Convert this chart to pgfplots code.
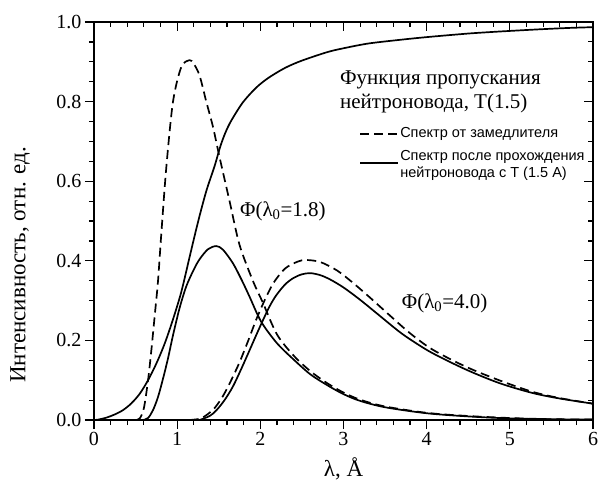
\documentclass[border=0pt]{standalone}
\usepackage{fontspec}
\setmainfont{Liberation Serif}
\newfontfamily\legfont{Liberation Sans}
\usepackage{pgfplots}
\pgfplotsset{compat=1.18}
\begin{document}
\begin{tikzpicture}
\pgfplotsset{
  frame/.style={
    scale only axis, width=499pt, height=398pt,
    xmin=0, xmax=6, ymin=0, ymax=1,
    xtick={0,1,2,3,4,5,6},
    ytick={0,0.2,0.4,0.6,0.8,1.0},
    minor x tick num=4, minor y tick num=3,
    major tick length=9pt, minor tick length=5pt,
    tick style={black, line width=1.2pt},
    axis line style={line width=1.5pt},
  },
  curve/.style={black, line width=1.7pt, smooth, tension=0.5},
  dcurve/.style={curve, dash pattern=on 9pt off 5pt},
}

% --- main axis: data, labels, outward ticks on left/bottom ---
\begin{axis}[
    frame,
    tick align=outside,
    xtick pos=bottom, ytick pos=left,
    /pgf/number format/assume math mode=true,
    ticklabel style={font=\fontsize{20}{24}\selectfont},
    yticklabel style={/pgf/number format/fixed,
                      /pgf/number format/fixed zerofill,
                      /pgf/number format/precision=1},
    xlabel={λ, Å},
    ylabel={Интенсивность, отн. ед.},
    label style={font=\fontsize{23}{27}\selectfont},
    xlabel style={at={(axis description cs:0.5,-0.123)}, anchor=center},
    ylabel style={at={(axis description cs:-0.148,0.39)}, anchor=center},
    clip=false
]

% transmission function T(1.5)
\addplot[curve] coordinates {
 (0.00,0.000) (0.05,0.001) (0.15,0.006) (0.25,0.014) (0.35,0.025)
 (0.45,0.042) (0.55,0.066) (0.65,0.100) (0.75,0.142) (0.85,0.192)
 (0.95,0.253) (1.05,0.322) (1.15,0.410) (1.25,0.497) (1.35,0.575)
 (1.45,0.638) (1.52,0.688) (1.58,0.722) (1.65,0.752) (1.79,0.798)
 (1.95,0.835) (2.10,0.860) (2.30,0.885) (2.50,0.903) (2.80,0.924)
 (3.00,0.934) (3.30,0.946) (3.67,0.955) (4.00,0.962) (4.50,0.971)
 (4.87,0.976) (5.30,0.981) (5.70,0.985) (6.00,0.987)
};

% moderator spectrum, lambda0 = 1.8 (dashed)
\addplot[dcurve] coordinates {
 (0.50,0.000) (0.55,0.004) (0.60,0.030) (0.65,0.100) (0.69,0.176)
 (0.73,0.262) (0.77,0.350) (0.81,0.470) (0.87,0.636) (0.95,0.800)
 (1.05,0.887) (1.15,0.904) (1.20,0.895) (1.27,0.865) (1.35,0.800)
 (1.43,0.737) (1.51,0.660) (1.63,0.550) (1.75,0.440) (1.91,0.350)
 (2.03,0.295) (2.20,0.215) (2.40,0.162) (2.60,0.123) (2.80,0.093)
 (3.00,0.069) (3.20,0.051) (3.50,0.034) (4.00,0.018) (4.50,0.010)
 (5.00,0.005) (5.50,0.002) (6.00,0.001)
};

% after guide, lambda0 = 1.8 (solid)
\addplot[curve] coordinates {
 (0.59,0.000) (0.65,0.005) (0.71,0.025) (0.77,0.058) (0.83,0.104)
 (0.89,0.155) (0.95,0.213) (1.03,0.282) (1.11,0.336) (1.20,0.378)
 (1.27,0.404) (1.37,0.429) (1.47,0.437) (1.55,0.428) (1.67,0.394)
 (1.78,0.350) (1.87,0.310) (2.01,0.247) (2.20,0.193) (2.40,0.152)
 (2.60,0.115) (2.80,0.088) (3.00,0.065) (3.20,0.048) (3.50,0.032)
 (4.00,0.017) (4.50,0.009) (5.00,0.004) (5.50,0.002) (6.00,0.001)
};

% moderator spectrum, lambda0 = 4.0 (dashed)
\addplot[dcurve] coordinates {
 (1.15,0.000) (1.27,0.003) (1.35,0.012) (1.45,0.030) (1.55,0.060)
 (1.65,0.100) (1.75,0.145) (1.85,0.197) (1.95,0.252) (2.05,0.300)
 (2.16,0.345) (2.30,0.381) (2.45,0.398) (2.55,0.402) (2.72,0.397)
 (2.92,0.376) (3.10,0.347) (3.30,0.311) (3.55,0.264) (3.80,0.218)
 (4.07,0.177) (4.47,0.134) (4.87,0.100) (5.27,0.071) (5.60,0.055)
 (6.00,0.041)
};

% after guide, lambda0 = 4.0 (solid)
\addplot[curve] coordinates {
 (1.27,0.000) (1.39,0.010) (1.47,0.024) (1.57,0.050) (1.67,0.084)
 (1.77,0.128) (1.87,0.175) (1.95,0.213) (2.03,0.250) (2.11,0.285)
 (2.19,0.313) (2.30,0.341) (2.40,0.357) (2.50,0.366) (2.60,0.369)
 (2.72,0.364) (2.84,0.353) (3.00,0.333) (3.20,0.302) (3.40,0.268)
 (3.67,0.222) (3.85,0.196) (4.07,0.168) (4.47,0.127) (4.87,0.093)
 (5.27,0.068) (5.60,0.054) (6.00,0.041)
};

% --- title of the transmission curve ---
\node[anchor=west, align=left, inner sep=0pt,
      font=\fontsize{21}{24}\selectfont]
  at (axis cs:2.957,0.824) {Функция пропускания\\нейтроновода, T(1.5)};

% --- legend (drawn by hand) ---
\draw[black, line width=1.5pt, dash pattern=on 9pt off 5pt]
  (axis cs:3.20,0.719) -- (axis cs:3.65,0.719);
\node[anchor=west, inner sep=0pt, font=\legfont\fontsize{14.5}{17}\selectfont]
  at (axis cs:3.68,0.719) {Спектр от замедлителя};
\draw[black, line width=1.5pt]
  (axis cs:3.20,0.646) -- (axis cs:3.65,0.646);
\node[anchor=west, align=left, inner sep=0pt,
      font=\legfont\fontsize{14.5}{17}\selectfont]
  at (axis cs:3.68,0.639) {Спектр после прохождения\\нейтроновода с T (1.5 A)};

% --- curve labels ---
\node[anchor=west, inner sep=0pt, font=\fontsize{21}{24}\selectfont]
  at (axis cs:1.755,0.525) {Φ(λ\textsubscript{0}=1.8)};
\node[anchor=west, inner sep=0pt, font=\fontsize{21}{24}\selectfont]
  at (axis cs:3.70,0.294) {Φ(λ\textsubscript{0}=4.0)};

\end{axis}

% --- overlay axis: inward ticks on top/right ---
\begin{axis}[
    frame,
    tick align=inside,
    xtick pos=top, ytick pos=right,
    xticklabels={}, yticklabels={}
]
\end{axis}

\pgfresetboundingbox
\path (-94pt,-63pt) rectangle (504pt,420pt);
\end{tikzpicture}
\end{document}
